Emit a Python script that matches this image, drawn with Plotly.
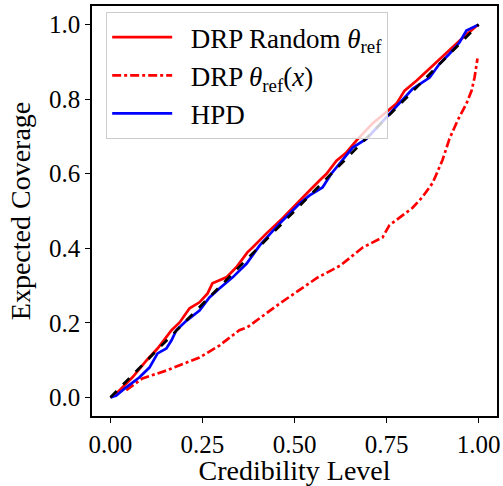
import plotly.graph_objects as go

# DRP with random reference point (solid red)
drp_rand_x = [0.0, 0.011, 0.06, 0.098, 0.128, 0.166, 0.188, 0.215, 0.242, 0.264, 0.277, 0.315,
              0.342, 0.372, 0.386, 0.424, 0.467, 0.505, 0.541, 0.568, 0.587, 0.614, 0.641,
              0.668, 0.712, 0.777, 0.799, 0.832, 0.867, 0.921, 0.957, 0.995, 1.0]
drp_rand_y = [0.0, 0.005, 0.054, 0.099, 0.131, 0.18, 0.201, 0.239, 0.255, 0.279, 0.306, 0.322,
              0.349, 0.389, 0.402, 0.44, 0.48, 0.52, 0.555, 0.582, 0.6, 0.635, 0.657,
              0.689, 0.735, 0.788, 0.823, 0.85, 0.882, 0.93, 0.965, 0.997, 1.0]

# DRP with theta_ref(x) (dash-dot red)
drp_ref_x = [0.043, 0.087, 0.152, 0.242, 0.296, 0.35, 0.372, 0.46, 0.54, 0.56, 0.625, 0.685,
             0.739, 0.758, 0.82, 0.848, 0.875, 0.902, 0.921, 0.943, 0.967, 0.981, 0.989,
             0.995, 0.997]
drp_ref_y = [0.019, 0.051, 0.072, 0.107, 0.139, 0.18, 0.188, 0.252, 0.306, 0.32, 0.354, 0.402,
             0.429, 0.462, 0.508, 0.538, 0.575, 0.637, 0.694, 0.743, 0.788, 0.823, 0.858,
             0.895, 0.909]

# HPD (solid blue)
hpd_x = [0.0, 0.016, 0.043, 0.079, 0.106, 0.128, 0.152, 0.166, 0.179, 0.207, 0.242, 0.269,
         0.296, 0.332, 0.37, 0.405, 0.459, 0.514, 0.541, 0.576, 0.6, 0.622, 0.658, 0.696,
         0.793, 0.821, 0.867, 0.894, 0.921, 0.948, 0.967, 0.995, 1.0]
hpd_y = [0.0, 0.005, 0.027, 0.054, 0.08, 0.118, 0.131, 0.153, 0.18, 0.206, 0.233, 0.268,
         0.292, 0.322, 0.359, 0.407, 0.466, 0.52, 0.542, 0.563, 0.6, 0.627, 0.67, 0.694,
         0.796, 0.828, 0.858, 0.895, 0.922, 0.952, 0.984, 0.997, 1.0]

ideal = [0.0, 1.0]

x_ticks = [0.0, 0.25, 0.5, 0.75, 1.0]
y_ticks = [0.0, 0.2, 0.4, 0.6, 0.8, 1.0]

FONT = "Liberation Serif"
PAD = "\u00a0\u00a0"  # small gap between legend line and label

fig = go.Figure()
fig.add_trace(go.Scatter(x=drp_rand_x, y=drp_rand_y, mode="lines",
                         line=dict(color="red", width=2.7),
                         name=PAD + "DRP Random <i>θ</i><sub>ref</sub>"))
fig.add_trace(go.Scatter(x=drp_ref_x, y=drp_ref_y, mode="lines",
                         line=dict(color="red", width=2.7, dash="dashdot"),
                         name=PAD + "DRP <i>θ</i><sub>ref</sub>(<i>x</i>)"))
fig.add_trace(go.Scatter(x=hpd_x, y=hpd_y, mode="lines",
                         line=dict(color="blue", width=2.7), name=PAD + "HPD"))
fig.add_trace(go.Scatter(x=ideal, y=ideal, mode="lines",
                         line=dict(color="black", width=2.7, dash="dash"),
                         showlegend=False))

axis_common = dict(showline=True, mirror=True, linecolor="black", linewidth=1.5,
                   ticks="outside", ticklen=5, tickwidth=1.2, tickcolor="black",
                   showgrid=False, zeroline=False, automargin=True,
                   tickfont=dict(family=FONT, size=25))

fig.update_layout(
    width=503, height=486,
    margin=dict(l=92, r=6, t=6, b=70, autoexpand=False),
    plot_bgcolor="white", paper_bgcolor="white",
    font=dict(family=FONT, size=23, color="black"),
    xaxis=dict(range=[-0.05, 1.05], tickvals=x_ticks,
               ticktext=[f"{v:.2f}" for v in x_ticks],
               title=dict(text="Credibility Level", standoff=3), **axis_common),
    yaxis=dict(range=[-0.05, 1.05], tickvals=y_ticks,
               ticktext=[f"{v:.1f}" for v in y_ticks],
               title=dict(text="Expected Coverage", standoff=10), **axis_common),
    legend=dict(x=0.035, y=0.985, xanchor="left", yanchor="top",
                bgcolor="rgba(255,255,255,0.8)", bordercolor="#cccccc", borderwidth=1,
                font=dict(family=FONT, size=27), itemwidth=60, tracegroupgap=0),
)

fig.write_html("out.html", config={"displayModeBar": False},
               post_script="document.body.style.margin='0';")
